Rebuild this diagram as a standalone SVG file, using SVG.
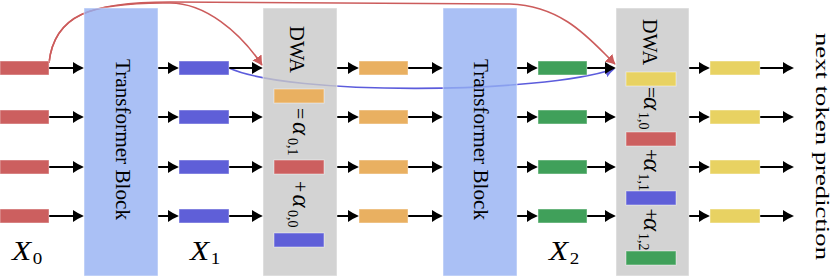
<svg xmlns="http://www.w3.org/2000/svg" width="830" height="276" viewBox="0 0 830 276">
<style>
.t{font-family:"Liberation Serif","Times New Roman",serif;fill:#000}
.tb{fill:#95b0f2;fill-opacity:0.8;stroke:#fff;stroke-opacity:0.5;stroke-width:1}
.dwa{fill:#c8c8c8;fill-opacity:0.8;stroke:#fff;stroke-opacity:0.5;stroke-width:1}
.bar{stroke:#fff;stroke-opacity:0.45;stroke-width:1}
.r{fill:#cc5f5f}
.b{fill:#5f5fd8}
.o{fill:#e9b061}
.g{fill:#40a05a}
.y{fill:#e8d262}
.al{font-style:italic;font-size:25px}
.sb{font-size:14px}
.arr{stroke:#000;stroke-width:2;fill:none;marker-end:url(#ah)}
.cr{stroke:#cc5c5c;stroke-width:1.6;fill:none;marker-end:url(#ahr)}
.cb{stroke:#5c5cdc;stroke-width:1.6;fill:none;marker-end:url(#ahb)}
</style>
<defs>
<marker id="ah" markerUnits="userSpaceOnUse" viewBox="0 -6 11 12" refX="5" refY="0" markerWidth="11" markerHeight="12" orient="auto">
<path d="M0,-6 Q5.5,-2.2 11,0 Q5.5,2.2 0,6 Z" fill="#000"/>
</marker>
<marker id="ahr" markerUnits="userSpaceOnUse" viewBox="0 -5.5 10 11" refX="9" refY="0" markerWidth="10" markerHeight="11" orient="auto">
<path d="M0,-5.5 Q5,-2 10,0 Q5,2 0,5.5 Z" fill="#cc5c5c"/>
</marker>
<marker id="ahb" markerUnits="userSpaceOnUse" viewBox="0 -5.5 10 11" refX="9" refY="0" markerWidth="10" markerHeight="11" orient="auto">
<path d="M0,-5.5 Q5,-2 10,0 Q5,2 0,5.5 Z" fill="#5c5cdc"/>
</marker>
</defs>

<g id="connectors">
<path class="cr" d="M49,63 C54,15 90,2 170,3 C205,3 240,32 262,65"/>
<path class="cr" d="M49,63 C54,15 90,2 170,2 L510,4 C565,6 592,42 615,64"/>
<path class="cb" d="M229,68 C290,96 540,94 614,69"/>
<path class="arr" d="M49,68H78"/><path class="arr" d="M49,117H78"/><path class="arr" d="M49,167H78"/><path class="arr" d="M49,216H78"/>
<path class="arr" d="M158,68H173"/><path class="arr" d="M158,117H173"/><path class="arr" d="M158,167H173"/><path class="arr" d="M158,216H173"/>
<path class="arr" d="M229,68H257"/><path class="arr" d="M229,117H257"/><path class="arr" d="M229,167H257"/><path class="arr" d="M229,216H257"/>
<path class="arr" d="M337,68H353"/><path class="arr" d="M337,117H353"/><path class="arr" d="M337,167H353"/><path class="arr" d="M337,216H353"/>
<path class="arr" d="M408,68H437"/><path class="arr" d="M408,117H437"/><path class="arr" d="M408,167H437"/><path class="arr" d="M408,216H437"/>
<path class="arr" d="M517,68H532"/><path class="arr" d="M517,117H532"/><path class="arr" d="M517,167H532"/><path class="arr" d="M517,216H532"/>
<path class="arr" d="M587,68H610"/><path class="arr" d="M587,117H610"/><path class="arr" d="M587,167H610"/><path class="arr" d="M587,216H610"/>
<path class="arr" d="M689,68H704"/><path class="arr" d="M689,117H704"/><path class="arr" d="M689,167H704"/><path class="arr" d="M689,216H704"/>
<path class="arr" d="M760,68H788"/><path class="arr" d="M760,117H788"/><path class="arr" d="M760,167H788"/><path class="arr" d="M760,216H788"/>
</g>

<g id="tb1">
<rect class="tb" x="84" y="8" width="74" height="268"/>
<text class="t" transform="translate(116,59) rotate(90)" font-size="22" textLength="161" lengthAdjust="spacingAndGlyphs">Transformer Block</text>
</g>

<g id="dwa1">
<rect class="dwa" x="263" y="8" width="74" height="268"/>
<text class="t" transform="translate(290,26) rotate(90)" font-size="20" textLength="47" lengthAdjust="spacingAndGlyphs">DWA</text>
<rect class="bar o" x="274" y="89" width="50" height="14"/>
<rect class="bar r" x="274" y="160" width="50" height="14"/>
<rect class="bar b" x="274" y="233" width="50" height="14"/>
<text class="t" transform="translate(293,0) rotate(90)" font-size="20"><tspan x="108" y="0">=</tspan><tspan class="al" x="122" y="0">α</tspan><tspan class="sb" x="138" y="5">0,1</tspan></text>
<text class="t" transform="translate(293,0) rotate(90)" font-size="20"><tspan x="181" y="0">+</tspan><tspan class="al" x="194.5" y="0">α</tspan><tspan class="sb" x="210" y="5">0,0</tspan></text>
</g>

<g id="tb2">
<rect class="tb" x="443" y="8" width="74" height="268"/>
<text class="t" transform="translate(474,59) rotate(90)" font-size="22" textLength="161" lengthAdjust="spacingAndGlyphs">Transformer Block</text>
</g>

<g id="dwa2">
<rect class="dwa" x="616" y="8" width="73" height="268"/>
<text class="t" transform="translate(643,19) rotate(90)" font-size="21" textLength="46" lengthAdjust="spacingAndGlyphs">DWA</text>
<rect class="bar y" x="626" y="72" width="50" height="14"/>
<rect class="bar r" x="626" y="132" width="50" height="14"/>
<rect class="bar b" x="626" y="191" width="50" height="14"/>
<rect class="bar g" x="626" y="251" width="50" height="14"/>
<text class="t" transform="translate(644,0) rotate(90)" font-size="20"><tspan x="87" y="0">=</tspan><tspan class="al" x="97" y="0">α</tspan><tspan class="sb" x="112" y="5">1,0</tspan></text>
<text class="t" transform="translate(644,0) rotate(90)" font-size="20"><tspan x="149" y="0">+</tspan><tspan class="al" x="158.5" y="0">α</tspan><tspan class="sb" x="173.5" y="5">1,1</tspan></text>
<text class="t" transform="translate(644,0) rotate(90)" font-size="20"><tspan x="208.5" y="0">+</tspan><tspan class="al" x="218" y="0">α</tspan><tspan class="sb" x="233" y="5">1,2</tspan></text>
</g>

<g id="x0">
<rect class="bar r" x="0" y="61" width="49" height="14"/>
<rect class="bar r" x="0" y="110" width="49" height="14"/>
<rect class="bar r" x="0" y="160" width="49" height="14"/>
<rect class="bar r" x="0" y="209" width="49" height="14"/>
<text class="t" transform="translate(12,259.5) scale(1.12,1)" font-size="28"><tspan font-style="italic">X</tspan><tspan x="18.5" y="4" font-size="17">0</tspan></text>
</g>

<g id="x1">
<rect class="bar b" x="179" y="61" width="50" height="14"/>
<rect class="bar b" x="179" y="110" width="50" height="14"/>
<rect class="bar b" x="179" y="160" width="50" height="14"/>
<rect class="bar b" x="179" y="209" width="50" height="14"/>
<text class="t" transform="translate(190,259.5) scale(1.12,1)" font-size="28"><tspan font-style="italic">X</tspan><tspan x="18.5" y="4" font-size="17">1</tspan></text>
</g>

<g id="h1">
<rect class="bar o" x="359" y="61" width="49" height="14"/>
<rect class="bar o" x="359" y="110" width="49" height="14"/>
<rect class="bar o" x="359" y="160" width="49" height="14"/>
<rect class="bar o" x="359" y="209" width="49" height="14"/>
</g>

<g id="x2">
<rect class="bar g" x="538" y="61" width="49" height="14"/>
<rect class="bar g" x="538" y="110" width="49" height="14"/>
<rect class="bar g" x="538" y="160" width="49" height="14"/>
<rect class="bar g" x="538" y="209" width="49" height="14"/>
<text class="t" transform="translate(549,259.5) scale(1.12,1)" font-size="28"><tspan font-style="italic">X</tspan><tspan x="18.5" y="4" font-size="17">2</tspan></text>
</g>

<g id="out">
<rect class="bar y" x="710" y="61" width="50" height="14"/>
<rect class="bar y" x="710" y="110" width="50" height="14"/>
<rect class="bar y" x="710" y="160" width="50" height="14"/>
<rect class="bar y" x="710" y="209" width="50" height="14"/>
</g>

<g id="next">
<text class="t" transform="translate(815.5,33) rotate(90)" font-size="18" textLength="227" lengthAdjust="spacingAndGlyphs">next token prediction</text>
</g>
</svg>
